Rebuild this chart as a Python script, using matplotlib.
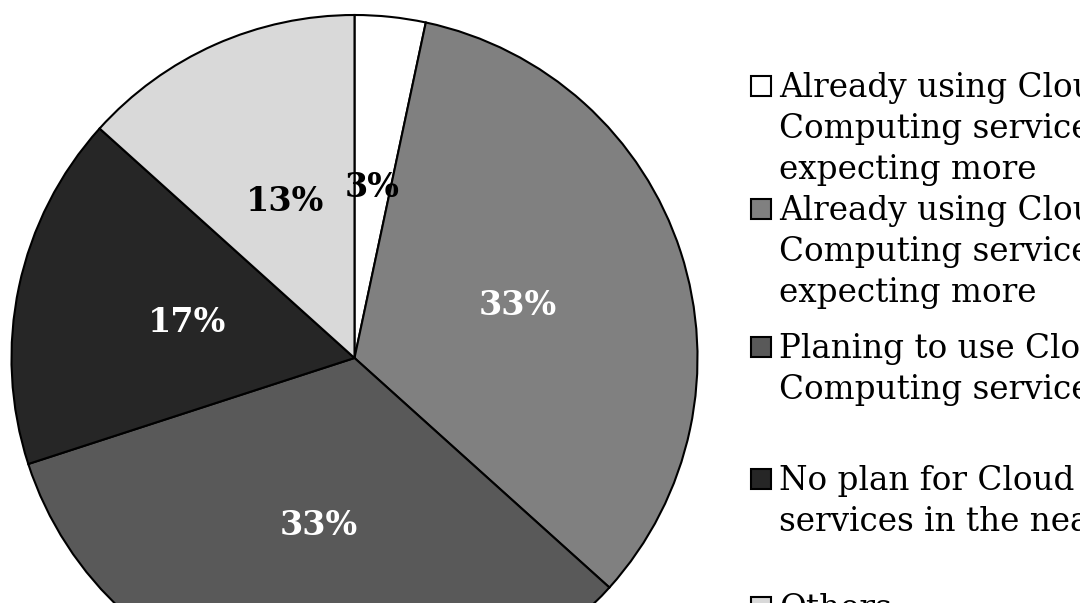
import matplotlib
matplotlib.use('Agg')
import matplotlib.pyplot as plt
from matplotlib.patches import Rectangle

# data
categories = [
    'Already using Cloud Computing services and not expecting more',
    'Already using Cloud Computing services and expecting more',
    'Planing to use Cloud Computing services',
    'No plan for Cloud Computing services in the near future',
    'Others',
]
# legend text as it wraps in the original
legend_lines = [
    ['Already using Cloud', 'Computing services and not', 'expecting more'],
    ['Already using Cloud', 'Computing services and', 'expecting more'],
    ['Planing to use Cloud', 'Computing services'],
    ['No plan for Cloud Computing', 'services in the near future'],
    ['Others'],
]
responses = [1, 10, 10, 5, 4]
colors = ['#ffffff', '#808080', '#595959', '#262626', '#d9d9d9']
label_colors = ['black', 'white', 'white', 'white', 'black']

W, H = 1080, 603
fig = plt.figure(figsize=(W / 100, H / 100), dpi=100)
ax = fig.add_axes([0, 0, 1, 1])

# pie, in pixel-like data coords (y up)
wedges, texts, autotexts = ax.pie(
    responses, colors=colors, startangle=90, counterclock=False,
    center=(354.5, H - 358), radius=343,
    autopct='%1.0f%%', pctdistance=0.5,
    wedgeprops=dict(edgecolor='black', linewidth=1.5),
    textprops=dict(family='DejaVu Serif', fontweight='bold', fontsize=24),
)
for t, c in zip(autotexts, label_colors):
    t.set_color(c)

# legend drawn by hand so every entry can keep its own spacing
entry_baselines = [97, 220, 358, 490, 618]
line_step = 41
text_x = 779
box_x, box_size = 751, 20
for lines, color, base in zip(legend_lines, colors, entry_baselines):
    ax.add_patch(Rectangle((box_x, H - base + 1), box_size, box_size,
                           facecolor=color, edgecolor='black', linewidth=1.5,
                           clip_on=False))
    for i, line in enumerate(lines):
        ax.text(text_x, H - (base + i * line_step), line, family='DejaVu Serif',
                fontsize=23.5, va='baseline', ha='left', color='black')

ax.set_xlim(0, W)
ax.set_ylim(0, H)
ax.set_aspect('equal')
ax.axis('off')

plt.savefig('out.png', dpi=100)
